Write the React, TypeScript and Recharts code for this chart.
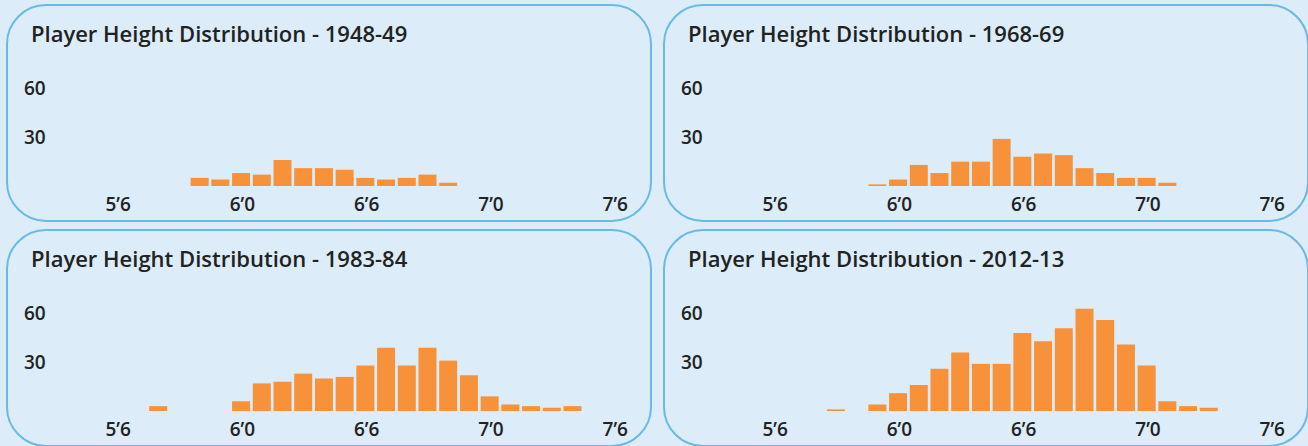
import React from "react";
import { BarChart, Bar, XAxis, YAxis } from "recharts";

// ---- Data (counts of players per height in inches) ----
const inches1948 = [70, 71, 72, 73, 74, 75, 76, 77, 78, 79, 80, 81, 82];
const counts1948 = [5, 4, 8, 7, 16, 11, 11, 10, 5, 4, 5, 7, 2];

const inches1968 = [71, 72, 73, 74, 75, 76, 77, 78, 79, 80, 81, 82, 83, 84, 85];
const counts1968 = [1, 4, 13, 8, 15, 15, 29, 18, 20, 19, 11, 8, 5, 5, 2];

const inches1983 = [68, 72, 73, 74, 75, 76, 77, 78, 79, 80, 81, 82, 83, 84, 85, 86, 87, 88];
const counts1983 = [3, 6, 17, 18, 23, 20, 21, 28, 39, 28, 39, 31, 22, 9, 4, 3, 2, 3];

const inches2012 = [69, 71, 72, 73, 74, 75, 76, 77, 78, 79, 80, 81, 82, 83, 84, 85, 86, 87];
const counts2012 = [1, 4, 11, 16, 26, 36, 29, 29, 48, 43, 51, 63, 56, 41, 28, 6, 3, 2];

const seasons = ["1948-49", "1968-69", "1983-84", "2012-13"];

const xTickValues = [66, 72, 78, 84, 90];
const xTickLabels = ["5\u20196", "6\u20190", "6\u20196", "7\u20190", "7\u20196"];
const yTickValues = [30, 60];

// ---- Styles ----
const PAGE_BG = "#dcedf9";
const BORDER = "#6cb8e7";
const BAR = "#f7923b";
const TEXT = "#222222";
const FONT = "'Open Sans', Lato, sans-serif";

const CHART_W = 645;
const CHART_H = 217;

const build = (inches: number[], counts: number[]) =>
  inches.map((inch, i) => ({ inch, count: counts[i] }));

const panelData = [
  build(inches1948, counts1948),
  build(inches1968, counts1968),
  build(inches1983, counts1983),
  build(inches2012, counts2012),
];

const positions = [
  { left: 7, top: 5 },
  { left: 664, top: 5 },
  { left: 7, top: 230 },
  { left: 664, top: 230 },
];

const XTick = (props: any) => {
  const { x, y, payload } = props;
  const idx = xTickValues.indexOf(payload.value);
  return (
    <text
      x={x + 1}
      y={y + 18}
      dy="0.35em"
      textAnchor="middle"
      fill={TEXT}
      fontFamily={FONT}
      fontWeight={600}
      fontSize={19}
    >
      {idx >= 0 ? xTickLabels[idx] : ""}
    </text>
  );
};

const YTick = (props: any) => {
  const { y, payload } = props;
  return (
    <text
      x={17}
      y={y}
      dy="0.35em"
      textAnchor="start"
      fill={TEXT}
      fontFamily={FONT}
      fontWeight={600}
      fontSize={19}
    >
      {payload.value}
    </text>
  );
};

const Panel = ({ index }: { index: number }) => {
  const pos = positions[index];
  return (
    <>
      <div
        style={{
          position: "absolute",
          left: pos.left - 1,
          top: pos.top - 1,
          width: 646,
          height: 218,
          boxSizing: "border-box",
          border: `2px solid ${BORDER}`,
          borderRadius: 40,
        }}
      />
      <div style={{ position: "absolute", left: pos.left, top: pos.top, width: CHART_W, height: CHART_H }}>
        <BarChart
          width={CHART_W}
          height={CHART_H}
          data={panelData[index]}
          margin={{ top: 51, right: 17, bottom: 0, left: 0 }}
        >
          <XAxis
            dataKey="inch"
            type="number"
            domain={[63, 91]}
            ticks={xTickValues}
            interval={0}
            height={36}
            axisLine={false}
            tickLine={false}
            tickSize={0}
            tickMargin={0}
            tick={<XTick />}
          />
          <YAxis
            type="number"
            domain={[0, 80]}
            ticks={yTickValues}
            width={48}
            axisLine={false}
            tickLine={false}
            tickSize={0}
            tickMargin={0}
            tick={<YTick />}
          />
          <Bar dataKey="count" fill={BAR} barSize={18} isAnimationActive={false} />
        </BarChart>
      </div>
      <svg
        width={CHART_W}
        height={60}
        style={{ position: "absolute", left: pos.left, top: pos.top, pointerEvents: "none" }}
      >
        <text
          x={24}
          y={37}
          fill={TEXT}
          fontFamily={FONT}
          fontWeight={600}
          fontSize={22}
          style={{ fontVariantLigatures: "none" }}
        >
          {`Player Height Distribution - ${seasons[index]}`}
        </text>
      </svg>
    </>
  );
};

export default function App() {
  return (
    <div
      style={{
        position: "absolute",
        left: 0,
        top: 0,
        width: 1308,
        height: 446,
        overflow: "hidden",
        background: PAGE_BG,
      }}
    >
      {[0, 1, 2, 3].map((i) => (
        <Panel key={i} index={i} />
      ))}
    </div>
  );
}
